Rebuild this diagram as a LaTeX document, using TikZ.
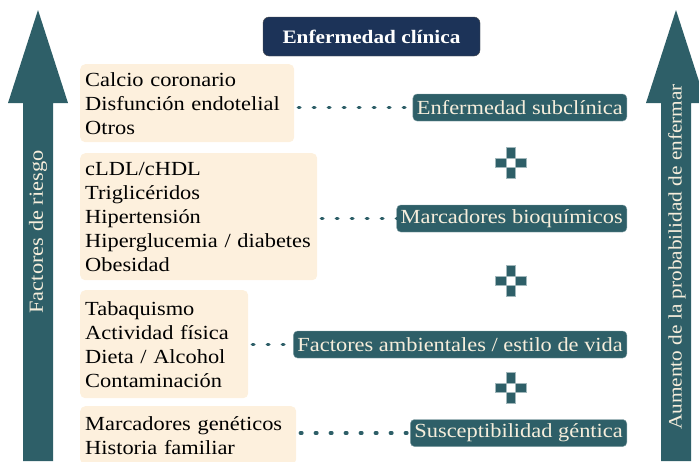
\documentclass[tikz,border=0pt]{standalone}
\usepackage{fontspec}
\setmainfont{Liberation Serif}[FakeStretch=1.12]
\usetikzlibrary{positioning}

\definecolor{tealbox}{HTML}{2E5F68}
\definecolor{navybox}{HTML}{1C3358}
\definecolor{creambox}{HTML}{FDF0DD}
\definecolor{creamtext}{HTML}{F6EEDC}

\tikzset{
  factorbox/.style={fill=creambox, rounded corners=5pt, anchor=north west,
    align=left, inner xsep=5pt, inner ysep=4pt,
    font=\fontsize{20}{24}\selectfont},
  levelbox/.style={fill=tealbox, draw=tealbox!60!white, rounded corners=4pt,
    anchor=east, text=creamtext, inner xsep=4pt, inner ysep=1pt,
    minimum height=27pt, font=\fontsize{20}{24}\selectfont},
  dotline/.style={tealbox, line width=3.5pt, line cap=round,
    dash pattern=on 1.5pt off 13.5pt},
  bigarrow/.style={fill=tealbox},
  pluspart/.style={fill=tealbox, draw=tealbox!45!white, line width=0.6pt}
}

\begin{document}
\begin{tikzpicture}[x=1pt, y=-1pt]
  \useasboundingbox (0,0) rectangle (699,461);

  \def\rx{627}

  % arrows at the sides
  \fill [bigarrow] (23,461) -- (23,103) -- (8,103) -- (38,10) -- (68,103)
    -- (53,103) -- (53,461) -- cycle;
  \node (riesgo) [rotate=90, text=creamtext, font=\fontsize{20}{24}\selectfont]
    at (38,232) {Factores de riesgo};
  \fill [bigarrow] (661,461) -- (661,103) -- (646,103) -- (676,10) -- (706,103)
    -- (691,103) -- (691,461) -- cycle;
  \node (aumento) [rotate=90, text=creamtext, font=\fontsize{19}{24}\selectfont]
    at (677,257) {Aumento de la probabilidad de enfermar};

  % title
  \node (clinica) [fill=navybox, draw=black!70, rounded corners=6pt, text=white,
    font=\fontsize{19}{24}\selectfont\bfseries, minimum width=217pt,
    minimum height=39pt] at (371.5,36.5) {Enfermedad clínica};

  % risk factors
  \node (f1) [factorbox, text width=204pt, minimum height=78pt] at (80,64)
    {Calcio coronario\\Disfunción endotelial\\Otros};
  \node (f2) [factorbox, text width=227pt, minimum height=127pt] at (80,153)
    {cLDL/cHDL\\Triglicéridos\\Hipertensión\\Hiperglucemia / diabetes\\Obesidad};
  \node (f3) [factorbox, text width=158pt, minimum height=108pt] at (80,290)
    {Tabaquismo\\Actividad física\\Dieta / Alcohol\\Contaminación};
  \node (f4) [factorbox, text width=206pt, minimum height=58pt] at (80,406)
    {Marcadores genéticos\\Historia familiar};

  % levels
  \node (l1) [levelbox] at (\rx,107.5) {Enfermedad subclínica};
  \node (l2) [levelbox] at (\rx,218.5) {Marcadores bioquímicos};
  \node (l3) [levelbox] at (\rx,344.5) {Factores ambientales / estilo de vida};
  \node (l4) [levelbox] at (\rx,433) {Susceptibilidad géntica};

  \foreach \i in {1,...,4}
    \draw [dotline] (f\i.east |- l\i.west) ++(4,0) -- (l\i.west);

  % plus signs
  \foreach \py in {163,281,388} {
    \draw [pluspart] (506.5,\py-15.5) rectangle (515.5,\py-4.5);
    \draw [pluspart] (506.5,\py+4.5) rectangle (515.5,\py+15.5);
    \draw [pluspart] (495.5,\py-4.5) rectangle (506.5,\py+4.5);
    \draw [pluspart] (515.5,\py-4.5) rectangle (526.5,\py+4.5);
  }
\end{tikzpicture}
\end{document}
